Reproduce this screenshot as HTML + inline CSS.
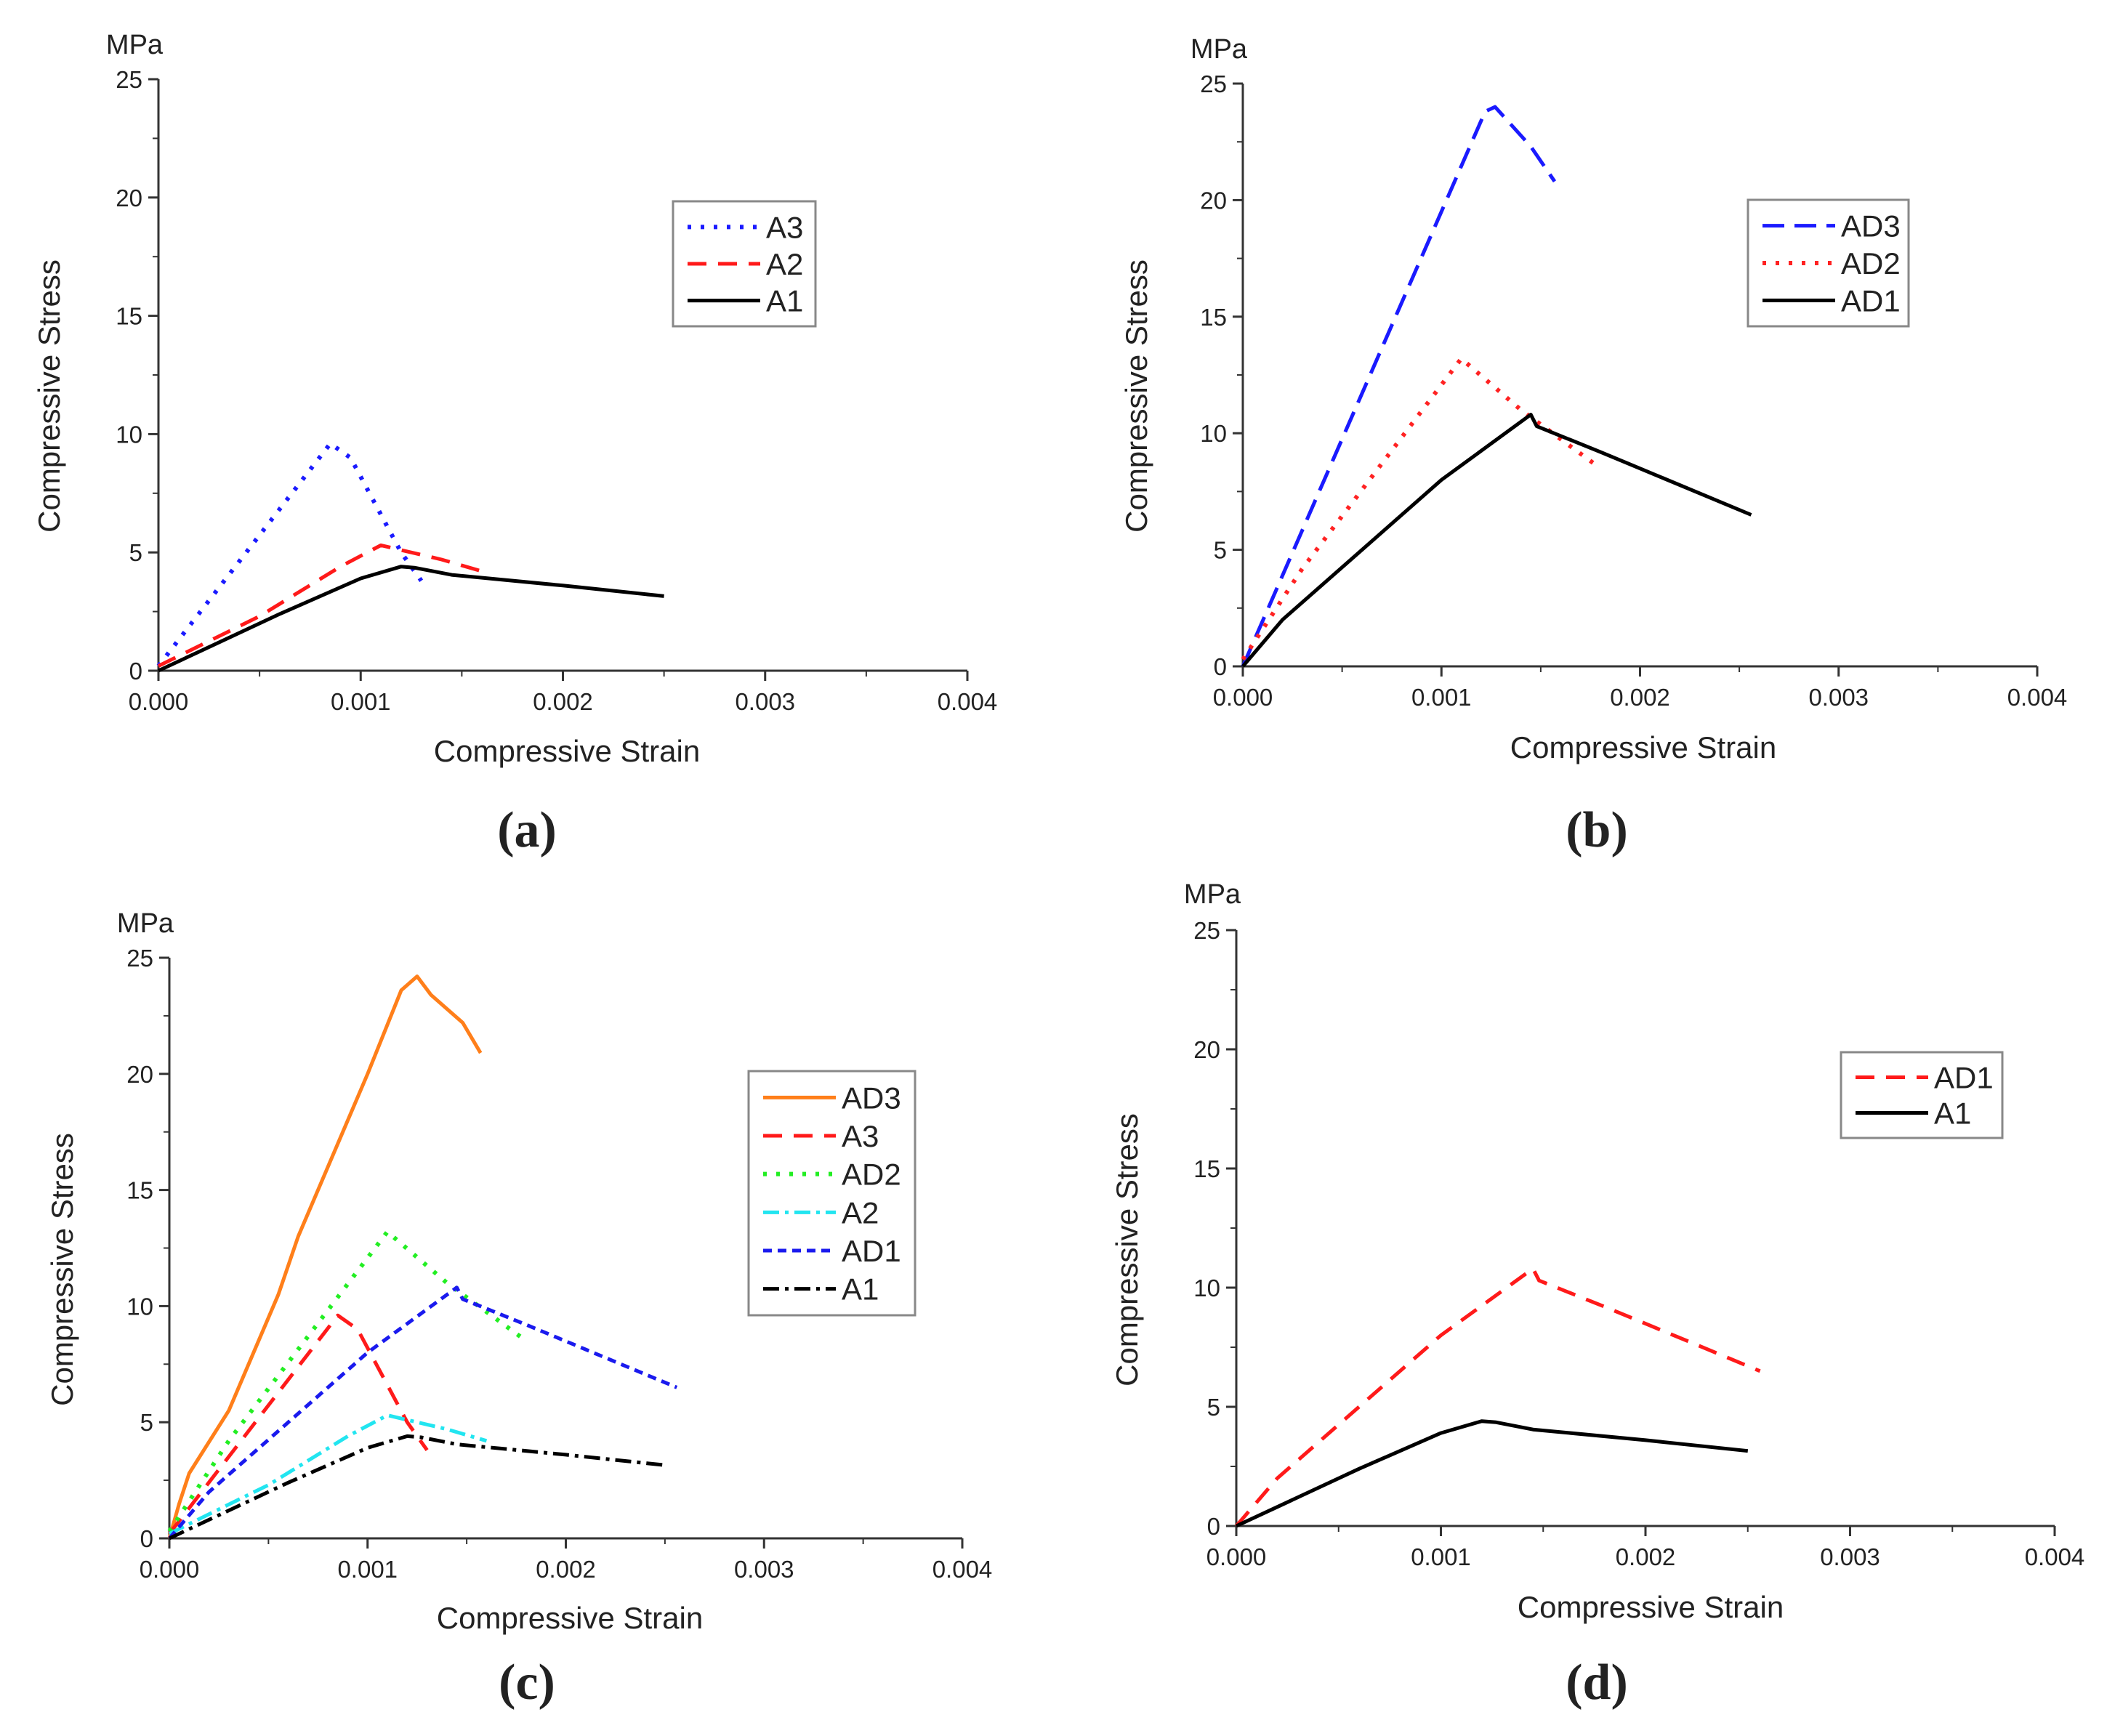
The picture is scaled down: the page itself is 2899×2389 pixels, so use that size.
<!DOCTYPE html>
<html><head><meta charset="utf-8"><style>
html,body{margin:0;padding:0;background:#fff}
svg{display:block}
text{font-family:"Liberation Sans",sans-serif;fill:#222}
</style></head><body>
<svg id="fig" width="2899" height="2389" viewBox="0 0 2899 2389" xmlns="http://www.w3.org/2000/svg"></svg>
<script>
// strain in units of 0.001, stress in MPa
const xTicks = [0, 1, 2, 3, 4];
const xTickLabels = ["0.000", "0.001", "0.002", "0.003", "0.004"];
const yTicks = [0, 5, 10, 15, 20, 25];
const A1x = [0, 0.2, 0.6, 1.0, 1.2, 1.27, 1.45, 2.0, 2.5];
const A1y = [0, 0.8, 2.4, 3.9, 4.4, 4.35, 4.05, 3.6, 3.15];
const A2x = [0, 0.5, 0.9, 1.1, 1.4, 1.6];
const A2y = [0.2, 2.3, 4.4, 5.3, 4.7, 4.2];
const A3x = [0, 0.85, 0.95, 1.2, 1.3];
const A3y = [0.2, 9.6, 9.0, 5.0, 3.8];
const AD1x = [0, 0.2, 1.0, 1.45, 1.48, 1.8, 2.56];
const AD1y = [0, 2.0, 8.0, 10.8, 10.3, 9.2, 6.5];
const AD2x = [0, 0.3, 1.1, 1.4, 1.8];
const AD2y = [0.3, 4.2, 13.2, 11.0, 8.5];
const AD3bx = [0, 1.22, 1.27, 1.45, 1.57];
const AD3by = [0, 23.8, 24.0, 22.3, 20.8];
const AD3cx = [0, 0.05, 0.1, 0.3, 0.55, 0.65, 1.0, 1.17, 1.25, 1.32, 1.48, 1.57];
const AD3cy = [0, 1.5, 2.8, 5.5, 10.5, 13.0, 20.0, 23.6, 24.2, 23.4, 22.2, 20.9];

const NS = "http://www.w3.org/2000/svg";
const svg = document.getElementById('fig');
function mk(tag, attrs, parent) {
  const e = document.createElementNS(NS, tag);
  for (const k in attrs) e.setAttribute(k, attrs[k]);
  (parent || svg).appendChild(e);
  return e;
}
const styles = {
  solidBlack: {stroke: '#000', dash: '', w: 5},
  dotBlue: {stroke: '#1a1aff', dash: '5 13', w: 6},
  dashRed: {stroke: '#ff1a1a', dash: '26 16', w: 5},
  dashBlue: {stroke: '#1a1aff', dash: '30 14', w: 5},
  dotRed: {stroke: '#ff2222', dash: '5 13', w: 6},
  solidOrange: {stroke: '#ff7f1a', dash: '', w: 5},
  dotGreen: {stroke: '#22ee22', dash: '5 13', w: 6},
  dashDotCyan: {stroke: '#22e5f0', dash: '22 8 5 8', w: 5},
  shortDashBlue: {stroke: '#1a1aee', dash: '12 8', w: 5},
  dashDotBlack: {stroke: '#000', dash: '22 8 5 8', w: 5}
};
function panel(p) {
  const g = mk('g', {});
  
  
  const sx = v => p.x0 + (p.x4 - p.x0) * v / 4;
  const sy = v => p.y0 - (p.y0 - p.y25) * v / 25;
  const ax = mk('path', {d: `M${p.x0},${p.y25}V${p.y0}H${p.x4}`, fill: 'none', stroke: '#333', 'stroke-width': 3}, g);
  
  
  for (let i = 0; i < xTicks.length; i++) {
    mk('line', {x1: sx(xTicks[i]), x2: sx(xTicks[i]), y1: p.y0, y2: p.y0 + 14, stroke: '#333', 'stroke-width': 3}, g);
    if (i < 4) mk('line', {x1: sx(xTicks[i] + 0.5), x2: sx(xTicks[i] + 0.5), y1: p.y0, y2: p.y0 + 8, stroke: '#333', 'stroke-width': 2}, g);
    const t = mk('text', {x: sx(xTicks[i]), y: p.y0 + 54, 'font-size': 33, 'text-anchor': 'middle'}, g);
    t.textContent = xTickLabels[i];
    
    
  }
  for (let i = 0; i < yTicks.length; i++) {
    mk('line', {x1: p.x0 - 14, x2: p.x0, y1: sy(yTicks[i]), y2: sy(yTicks[i]), stroke: '#333', 'stroke-width': 3}, g);
    if (i < 5) mk('line', {x1: p.x0 - 8, x2: p.x0, y1: sy(yTicks[i] + 2.5), y2: sy(yTicks[i] + 2.5), stroke: '#333', 'stroke-width': 2}, g);
    const t = mk('text', {x: p.x0 - 22, y: sy(yTicks[i]) + 12, 'font-size': 33, 'text-anchor': 'end'}, g);
    t.textContent = yTicks[i];
    
    
  }
  const mp = mk('text', {x: p.mpa[0], y: p.mpa[1], 'font-size': 38, 'text-anchor': 'middle'}, g);
  mp.textContent = 'MPa';
  
  
  const yl = mk('text', {x: 0, y: 0, 'font-size': 42, 'text-anchor': 'middle', transform: `translate(${p.yl[0]},${p.yl[1]}) rotate(-90)`}, g);
  yl.textContent = 'Compressive Stress';
  
  
  const xl = mk('text', {x: p.xl[0], y: p.xl[1], 'font-size': 42, 'text-anchor': 'middle'}, g);
  xl.textContent = 'Compressive Strain';
  
  
  const cap = mk('text', {x: p.cap[0], y: p.cap[1], 'font-size': 70, 'text-anchor': 'middle', style: 'font-family:"Liberation Serif",serif;font-weight:bold'}, g);
  cap.textContent = '(' + p.id + ')';
  
  
  p.series.forEach(s => {
    const st = styles[s.style];
    const d = s.x.map((v, i) => (i ? 'L' : 'M') + sx(v).toFixed(1) + ',' + sy(s.y[i]).toFixed(1)).join('');
    const path = mk('path', {d: d, fill: 'none', stroke: st.stroke, 'stroke-width': st.w, 'stroke-dasharray': st.dash, 'stroke-linejoin': 'round'}, g);
    
    
  });
  const L = p.legend;
  const lg = mk('g', {}, g);
  
  
  mk('rect', {x: L.x, y: L.y, width: L.w, height: L.h, fill: '#fff', stroke: '#888', 'stroke-width': 3}, lg);
  const order = p.legendOrder;
  const step = (L.h - 20) / order.length;
  order.forEach((k, i) => {
    const s = p.series.find(q => q.name === k);
    const st = styles[s.style];
    const cy = L.y + 10 + step * (i + 0.5);
    mk('line', {x1: L.x + 20, x2: L.x + 120, y1: cy, y2: cy, stroke: st.stroke, 'stroke-width': st.w, 'stroke-dasharray': st.dash}, lg);
    const t = mk('text', {x: L.x + 128, y: cy + 15, 'font-size': 42}, lg);
    t.textContent = k;
    
    
  });
}
panel({id: 'a', x0: 218, x4: 1331, y0: 923, y25: 109, mpa: [185, 74], yl: [82, 545], xl: [780, 1048], cap: [725, 1165],
  legend: {x: 926, y: 277, w: 196, h: 172}, legendOrder: ['A3', 'A2', 'A1'],
  series: [{name: 'A3', x: A3x, y: A3y, style: 'dotBlue'}, {name: 'A2', x: A2x, y: A2y, style: 'dashRed'}, {name: 'A1', x: A1x, y: A1y, style: 'solidBlack'}]});
panel({id: 'b', x0: 1710, x4: 2803, y0: 917, y25: 115, mpa: [1677, 80], yl: [1578, 545], xl: [2261, 1043], cap: [2197, 1165],
  legend: {x: 2405, y: 275, w: 221, h: 174}, legendOrder: ['AD3', 'AD2', 'AD1'],
  series: [{name: 'AD3', x: AD3bx, y: AD3by, style: 'dashBlue'}, {name: 'AD2', x: AD2x, y: AD2y, style: 'dotRed'}, {name: 'AD1', x: AD1x, y: AD1y, style: 'solidBlack'}]});
panel({id: 'c', x0: 233, x4: 1324, y0: 2117, y25: 1318, mpa: [200, 1283], yl: [100, 1747], xl: [784, 2241], cap: [725, 2338],
  legend: {x: 1030, y: 1474, w: 229, h: 336}, legendOrder: ['AD3', 'A3', 'AD2', 'A2', 'AD1', 'A1'],
  series: [{name: 'AD3', x: AD3cx, y: AD3cy, style: 'solidOrange'}, {name: 'A3', x: A3x, y: A3y, style: 'dashRed'}, {name: 'AD2', x: AD2x, y: AD2y, style: 'dotGreen'}, {name: 'A2', x: A2x, y: A2y, style: 'dashDotCyan'}, {name: 'AD1', x: AD1x, y: AD1y, style: 'shortDashBlue'}, {name: 'A1', x: A1x, y: A1y, style: 'dashDotBlack'}]});
panel({id: 'd', x0: 1701, x4: 2827, y0: 2100, y25: 1280, mpa: [1668, 1243], yl: [1565, 1720], xl: [2271, 2226], cap: [2197, 2338],
  legend: {x: 2533, y: 1448, w: 222, h: 118}, legendOrder: ['AD1', 'A1'],
  series: [{name: 'AD1', x: AD1x, y: AD1y, style: 'dashRed'}, {name: 'A1', x: A1x, y: A1y, style: 'solidBlack'}]});
</script>
</body></html>
